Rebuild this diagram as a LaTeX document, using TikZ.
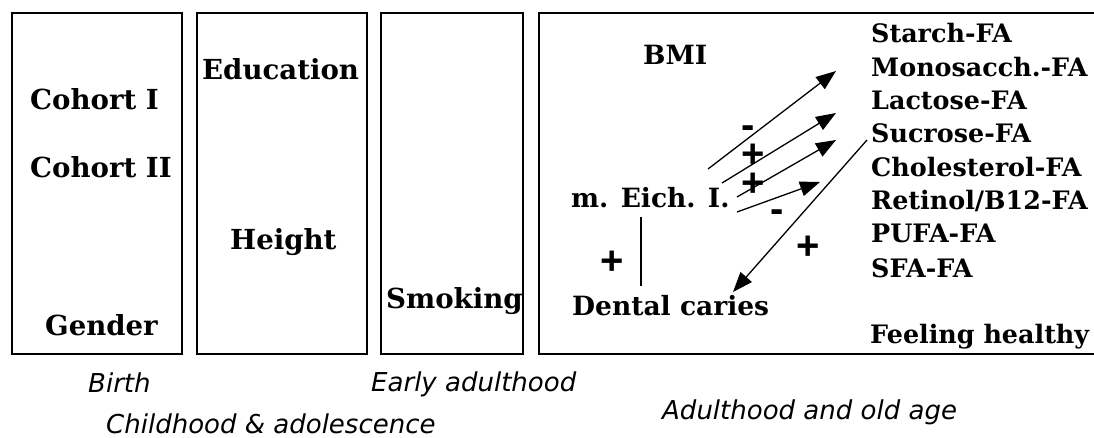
\documentclass[tikz,border=0pt]{standalone}
\usepackage{fontspec}
\setmainfont{DejaVu Serif}
\newfontfamily\agefont{DejaVu Sans}
\newfontfamily\sgnfont{Liberation Sans}
\usetikzlibrary{arrows.meta}
\tikzset{
  phase/.style={draw=black, line width=2pt},
  lab/.style={font=\bfseries\fontsize{26.5}{30}\selectfont, inner sep=0pt, anchor=base west},
  labL/.style={lab, font=\bfseries\fontsize{27.6}{30}\selectfont},
  labR/.style={lab, font=\bfseries\fontsize{25.4}{30}\selectfont},
  age/.style={font=\agefont\itshape\fontsize{26}{28}\selectfont, inner sep=0pt, anchor=base west},
  sgn/.style={font=\sgnfont\bfseries\fontsize{40}{40}\selectfont, inner sep=0pt, text height=0.6em, text depth=0pt},
  link/.style={line width=1.3pt, -{Triangle[length=20pt,width=15pt]}},
  plain/.style={line width=1.3pt}
}
\begin{document}
\begin{tikzpicture}[x=1pt,y=-1pt]
\useasboundingbox (0,0) rectangle (1094,438);
\clip (0,0) rectangle (1094,438);
% phase boxes
\draw[phase] (12,13) rectangle (182,354);
\draw[phase] (197,13) rectangle (367,354);
\draw[phase] (381,13) rectangle (523,354);
\draw[phase] (539,13) rectangle (1120,354);
% labels
\node[labL] (coh1) at (30,110) {Cohort I};
\node[labL] (coh2) at (30,178) {Cohort II};
\node[labL] (gender) at (45,335) {Gender};
\node[labL] (edu) at (202,80) {Education};
\node[labL] (height) at (230,250) {Height};
\node[labL] (smoke) at (386,308) {Smoking};
\node[lab] (bmi) at (643,65) {BMI};
\node[lab] (eich) at (571,208) {m. Eich. I.};
\node[lab] (caries) at (572,315) {Dental caries};
\node[labR] (starch) at (871,43) {Starch-FA};
\node[labR] (mono) at (871,77) {Monosacch.-FA};
\node[labR] (lact) at (871,110) {Lactose-FA};
\node[labR] (sucr) at (871,143) {Sucrose-FA};
\node[labR] (chol) at (871,177) {Cholesterol-FA};
\node[labR] (retin) at (871,210) {Retinol/B12-FA};
\node[labR] (pufa) at (871,243) {PUFA-FA};
\node[labR] (sfa) at (871,277) {SFA-FA};
\node[labR] (feel) at (870,343) {Feeling healthy};
% age labels
\node[age] (birth) at (88,392) {Birth};
\node[age] (child) at (106,433) {Childhood \& adolescence};
\node[age] (early) at (371,391) {Early adulthood};
\node[age] (adult) at (662,419) {Adulthood and old age};
% connector end points
\coordinate (s1) at (708,169); \coordinate (t1) at (836,71);
\coordinate (s2) at (722,183); \coordinate (t2) at (836,113);
\coordinate (s3) at (737,197); \coordinate (t3) at (836,140);
\coordinate (s4) at (737,212); \coordinate (t4) at (820,182);
\coordinate (s5) at (867,140); \coordinate (t5) at (733,292);
\coordinate (v1) at (641,217); \coordinate (v2) at (641,286);
\draw[link] (s1) -- (t1);
\draw[link] (s2) -- (t2);
\draw[link] (s3) -- (t3);
\draw[link] (s4) -- (t4);
\draw[link] (s5) -- (t5);
\draw[plain] (v1) -- (v2);
% signs
\node[sgn] (m1) at (748,136) {-};
\node[sgn] (p1) at (753,165) {+};
\node[sgn] (p2) at (753,194) {+};
\node[sgn] (m2) at (777,220) {-};
\node[sgn] (p3) at (612,271) {+};
\node[sgn] (p4) at (808,256) {+};
\end{tikzpicture}
\end{document}
